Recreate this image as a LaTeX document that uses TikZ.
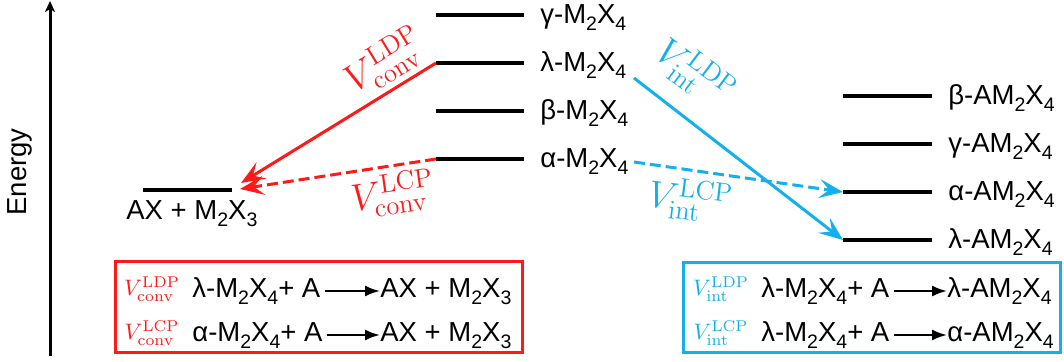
\RequirePackage{fix-cm}
\documentclass[tikz,border=0pt]{standalone}
\usepackage[no-math]{fontspec}
\setmainfont{Liberation Sans}
\usetikzlibrary{arrows.meta}
\definecolor{cred}{RGB}{255,25,25}
\definecolor{cblue}{RGB}{20,176,236}
\newcommand{\sbs}[1]{\raisebox{-0.22em}{\fontsize{9.75}{10}\selectfont #1}}
\newcommand{\Vv}[2]{$V^{\mathrm{#1}}_{\mathrm{#2}}$}
\begin{document}
\begin{tikzpicture}[x=0.5pt,y=-0.5pt,
  lvl/.style={line width=1.6pt},
  txt/.style={font=\fontsize{13.75}{15}\selectfont, inner sep=0pt},
  big/.style={font=\fontsize{19}{21}\selectfont, inner sep=0pt},
  sml/.style={font=\fontsize{11.2}{12}\selectfont, inner sep=0pt},
  arr/.style={line width=1.5pt, -{Stealth[length=12pt,width=9.5pt,inset=5pt]}},
  rxn/.style={line width=1.1pt, -{Latex[length=7.5pt,width=5.5pt]}},
  dsh/.style={dash pattern=on 5.5pt off 2.5pt},
  boxr/.style={draw=cred, line width=1.5pt},
  boxb/.style={draw=cblue, line width=1.5pt}]
\useasboundingbox (0,0) rectangle (1064,362);
% energy axis
\coordinate (ax0) at (50,356);
\coordinate (ax1) at (50,1);
\draw[line width=1.5pt,-{Stealth[length=5.5pt,width=5pt,inset=1.5pt]}] (ax0) -- (ax1);
\node[txt, rotate=90] (energy) at (20,172) {Energy};
% left level
\coordinate (pL) at (143,190); \coordinate (pR) at (232,190);
\draw[lvl] (pL) -- (pR);
\node[txt, anchor=base west] (pT) at (126,220) {AX + M\sbs{2}X\sbs{3}};
% middle levels
\coordinate (gL) at (436,15);  \coordinate (gR) at (524,15);
\coordinate (lL) at (436,63);  \coordinate (lR) at (524,63);
\coordinate (bL) at (436,111); \coordinate (bR) at (524,111);
\coordinate (aL) at (436,159); \coordinate (aR) at (524,159);
\draw[lvl] (gL) -- (gR);
\draw[lvl] (lL) -- (lR);
\draw[lvl] (bL) -- (bR);
\draw[lvl] (aL) -- (aR);
\node[txt, anchor=base west] (gT) at (540,24)  {γ-M\sbs{2}X\sbs{4}};
\node[txt, anchor=base west] (lT) at (540,72)  {λ-M\sbs{2}X\sbs{4}};
\node[txt, anchor=base west] (bT) at (540,120) {β-M\sbs{2}X\sbs{4}};
\node[txt, anchor=base west] (aT) at (540,168) {α-M\sbs{2}X\sbs{4}};
% right levels
\coordinate (RbL) at (843,96);  \coordinate (RbR) at (932,96);
\coordinate (RgL) at (843,144); \coordinate (RgR) at (932,144);
\coordinate (RaL) at (843,192); \coordinate (RaR) at (932,192);
\coordinate (RlL) at (843,240); \coordinate (RlR) at (932,240);
\draw[lvl] (RbL) -- (RbR);
\draw[lvl] (RgL) -- (RgR);
\draw[lvl] (RaL) -- (RaR);
\draw[lvl] (RlL) -- (RlR);
\node[txt, anchor=base west] (RbT) at (948,105) {β-AM\sbs{2}X\sbs{4}};
\node[txt, anchor=base west] (RgT) at (948,153) {γ-AM\sbs{2}X\sbs{4}};
\node[txt, anchor=base west] (RaT) at (948,201) {α-AM\sbs{2}X\sbs{4}};
\node[txt, anchor=base west] (RlT) at (948,249) {λ-AM\sbs{2}X\sbs{4}};
% red arrows
\coordinate (tA) at (241,183);
\coordinate (tB) at (240,189);
\draw[arr, cred] (lL) -- (tA);
\draw[arr, cred, dsh] (aL) -- (tB);
\node[big, text=cred, rotate=31.6] (vA) at (385,62) {\Vv{LDP}{conv}};
\node[big, text=cred, rotate=8] (vB) at (393,194) {\Vv{LCP}{conv}};
% blue arrows
\coordinate (sC) at (634,78);
\coordinate (sD) at (634,162);
\draw[arr, cblue] (sC) -- (RlL);
\draw[arr, cblue, dsh] (sD) -- (RaL);
\node[big, text=cblue, rotate=-37] (vC) at (694,73) {\Vv{LDP}{int}};
\node[big, text=cblue, rotate=-7] (vD) at (690,200) {\Vv{LCP}{int}};
% red box
\coordinate (rb1) at (115,262); \coordinate (rb2) at (522,353);
\draw[boxr] (rb1) rectangle (rb2);
\node[sml, text=cred] (m1) at (152,289) {\Vv{LDP}{conv}};
\node[txt, anchor=base west] (r1a) at (192,298) {λ-M\sbs{2}X\sbs{4}+ A};
\node[txt, anchor=base west] (r1b) at (380,298) {AX + M\sbs{2}X\sbs{3}};
\draw[rxn, shorten <=2pt] (r1a.east |- 0,291) -- (r1b.west |- 0,291);
\node[sml, text=cred] (m2) at (152,333) {\Vv{LCP}{conv}};
\node[txt, anchor=base west] (r2a) at (192,342) {α-M\sbs{2}X\sbs{4}+ A};
\node[txt, anchor=base west] (r2b) at (380,342) {AX + M\sbs{2}X\sbs{3}};
\draw[rxn, shorten <=2pt] (r2a.east |- 0,335) -- (r2b.west |- 0,335);
% blue box
\coordinate (bb1) at (683,263); \coordinate (bb2) at (1060,353);
\draw[boxb] (bb1) rectangle (bb2);
\node[sml, text=cblue] (m3) at (721,289) {\Vv{LDP}{int}};
\node[txt, anchor=base west] (s1a) at (761,298) {λ-M\sbs{2}X\sbs{4}+ A};
\node[txt, anchor=base west] (s1b) at (947,298) {λ-AM\sbs{2}X\sbs{4}};
\draw[rxn, shorten <=2pt] (s1a.east |- 0,291) -- (s1b.west |- 0,291);
\node[sml, text=cblue] (m4) at (721,333) {\Vv{LCP}{int}};
\node[txt, anchor=base west] (s2a) at (761,342) {λ-M\sbs{2}X\sbs{4}+ A};
\node[txt, anchor=base west] (s2b) at (947,342) {α-AM\sbs{2}X\sbs{4}};
\draw[rxn, shorten <=2pt] (s2a.east |- 0,335) -- (s2b.west |- 0,335);
\end{tikzpicture}
\end{document}
